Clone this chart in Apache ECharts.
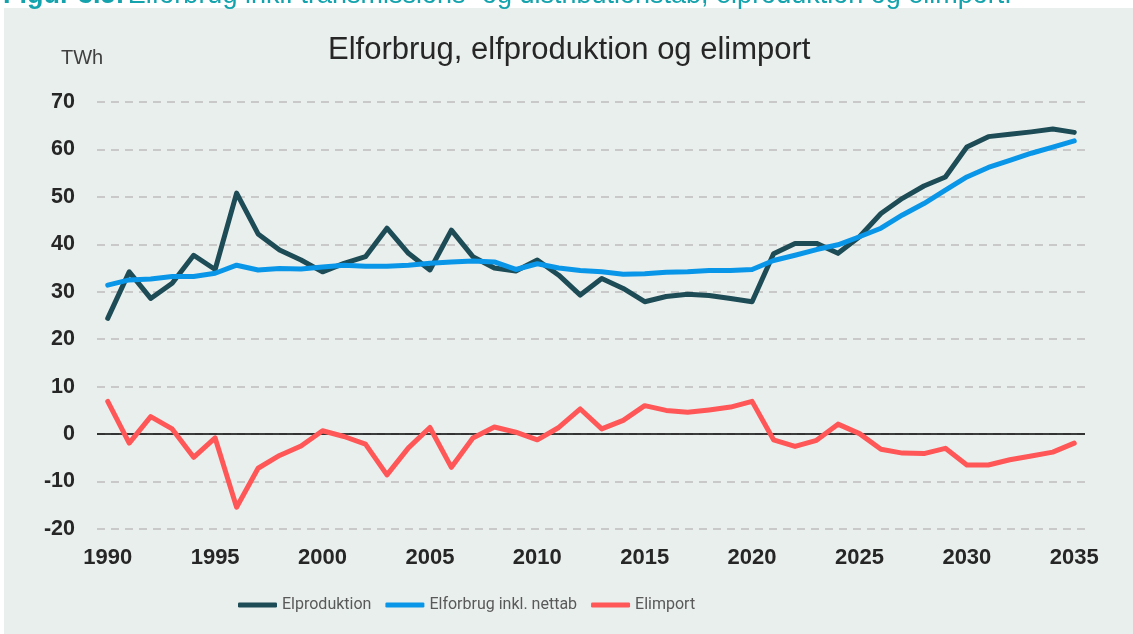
<!DOCTYPE html>
<html>
<head>
<meta charset="utf-8">
<title>Elforbrug, elfproduktion og elimport</title>
<script src="https://cdn.jsdelivr.net/npm/echarts@6/dist/echarts.min.js"></script>
<style>
	html,body{margin:0;padding:0;background:#fff;}
	#chart{width:1133px;height:634px;}
</style>
</head>
<body>
<div id="chart"></div>
<script>
'use strict';

// aar paa x-aksen
var years = [];
for(var y=1990;y<=2035;y++){
	years.push(String(y));
}

// TWh, aflaest fra figuren
var elproduktion = [24.4,34.2,28.6,31.8,37.7,34.7,50.8,42.2,38.8,36.7,
	34.2,36.0,37.4,43.4,38.1,34.6,43.0,37.4,35.0,34.4,
	36.7,33.5,29.3,32.8,30.7,27.9,29.0,29.5,29.2,28.6,
	27.9,38.0,40.2,40.2,38.1,41.6,46.5,49.7,52.3,54.2,
	60.5,62.7,63.2,63.7,64.3,63.6];
var elforbrug = [31.4,32.5,32.7,33.2,33.2,33.9,35.6,34.6,34.9,34.8,
	35.2,35.6,35.4,35.4,35.6,36.0,36.3,36.5,36.3,34.7,
	35.9,35.0,34.5,34.2,33.7,33.8,34.1,34.2,34.5,34.5,
	34.7,36.6,37.7,38.9,39.9,41.6,43.4,46.2,48.6,51.4,
	54.2,56.2,57.7,59.2,60.5,61.8];
var elimport = [6.9,-1.9,3.7,1.1,-4.9,-0.8,-15.4,-7.2,-4.5,-2.5,
	0.7,-0.5,-2.1,-8.6,-2.9,1.4,-7.0,-0.8,1.5,0.4,
	-1.2,1.4,5.3,1.1,2.9,6.0,5.0,4.6,5.1,5.7,
	6.9,-1.2,-2.6,-1.3,2.1,0.1,-3.2,-4.0,-4.1,-3.0,
	-6.5,-6.5,-5.4,-4.6,-3.8,-1.9];

var seriesNames = ['Elproduktion','Elforbrug inkl. nettab','Elimport'];
var seriesColors = ['#1d4b56','#0a96e8','#ff5757'];

var myChart = echarts.init(document.getElementById('chart'));

function lineSerie(name,data,color){
	return {
		name:name,
		type:'line',
		data:data,
		symbol:'none',
		smooth:false,
		z:3,
		lineStyle:{width:5,color:color,join:'round',cap:'round'},
		itemStyle:{color:color}
	};
}

var series = [
	lineSerie(seriesNames[0],elproduktion,seriesColors[0]),
	lineSerie(seriesNames[1],elforbrug,seriesColors[1]),
	lineSerie(seriesNames[2],elimport,seriesColors[2])
];
// nul-linje
series[2].markLine = {
	silent:true,
	symbol:'none',
	z:1,
	label:{show:false},
	lineStyle:{color:'#000',width:1.5,type:'solid'},
	data:[{yAxis:0}]
};

var option = {
	backgroundColor:'#fff',
	animation:false,
	graphic:[
		{
			type:'rect',
			z:-10,
			shape:{x:4,y:8,width:1129,height:626},
			style:{fill:'#e9efed'}
		},
		{
			type:'text',
			left:3,
			top:-18,
			style:{
				rich:{
					b:{fontWeight:'bold',fontSize:27,fontFamily:'Liberation Sans',fill:'#14a3ad'},
					n:{fontSize:27,fontFamily:'Liberation Sans',fill:'#14a3ad'}
				},
				text:'{b|Figur 3.5:} {n|Elforbrug inkl. transmissions- og distributionstab, elproduktion og elimport.}'
			}
		},
		{
			type:'text',
			left:61,
			top:48,
			style:{text:'TWh',fontSize:20,fontFamily:'Liberation Sans',fill:'#404040'}
		}
	],
	title:{
		text:'Elforbrug, elfproduktion og elimport',
		left:323,
		top:30,
		textStyle:{fontSize:31,fontWeight:'normal',fontFamily:'Liberation Sans',color:'#262626'}
	},
	legend:{
		left:233,
		top:592,
		icon:'roundRect',
		itemWidth:39,
		itemHeight:5,
		itemGap:14,
		data:seriesNames,
		textStyle:{fontSize:16,fontFamily:'Roboto',color:'#595959'}
	},
	grid:{left:97,right:48,top:102,bottom:105,containLabel:false},
	xAxis:{
		type:'category',
		data:years,
		boundaryGap:true,
		axisLine:{show:false},
		axisTick:{show:false},
		splitLine:{show:false},
		axisLabel:{
			interval:4,
			margin:18,
			fontSize:22,
			fontWeight:'bold',
			fontFamily:'Liberation Sans',
			color:'#262626'
		}
	},
	yAxis:{
		type:'value',
		min:-20,
		max:70,
		interval:10,
		axisLine:{show:false},
		axisTick:{show:false},
		axisLabel:{
			margin:22,
			fontSize:21.5,
			fontWeight:'bold',
			fontFamily:'Liberation Sans',
			color:'#262626'
		},
		splitLine:{lineStyle:{color:'#c9c9c9',width:2,type:[8,6]}}
	},
	series:series
};
myChart.setOption(option);
window.onresize = myChart.resize;
</script>
</body>
</html>
